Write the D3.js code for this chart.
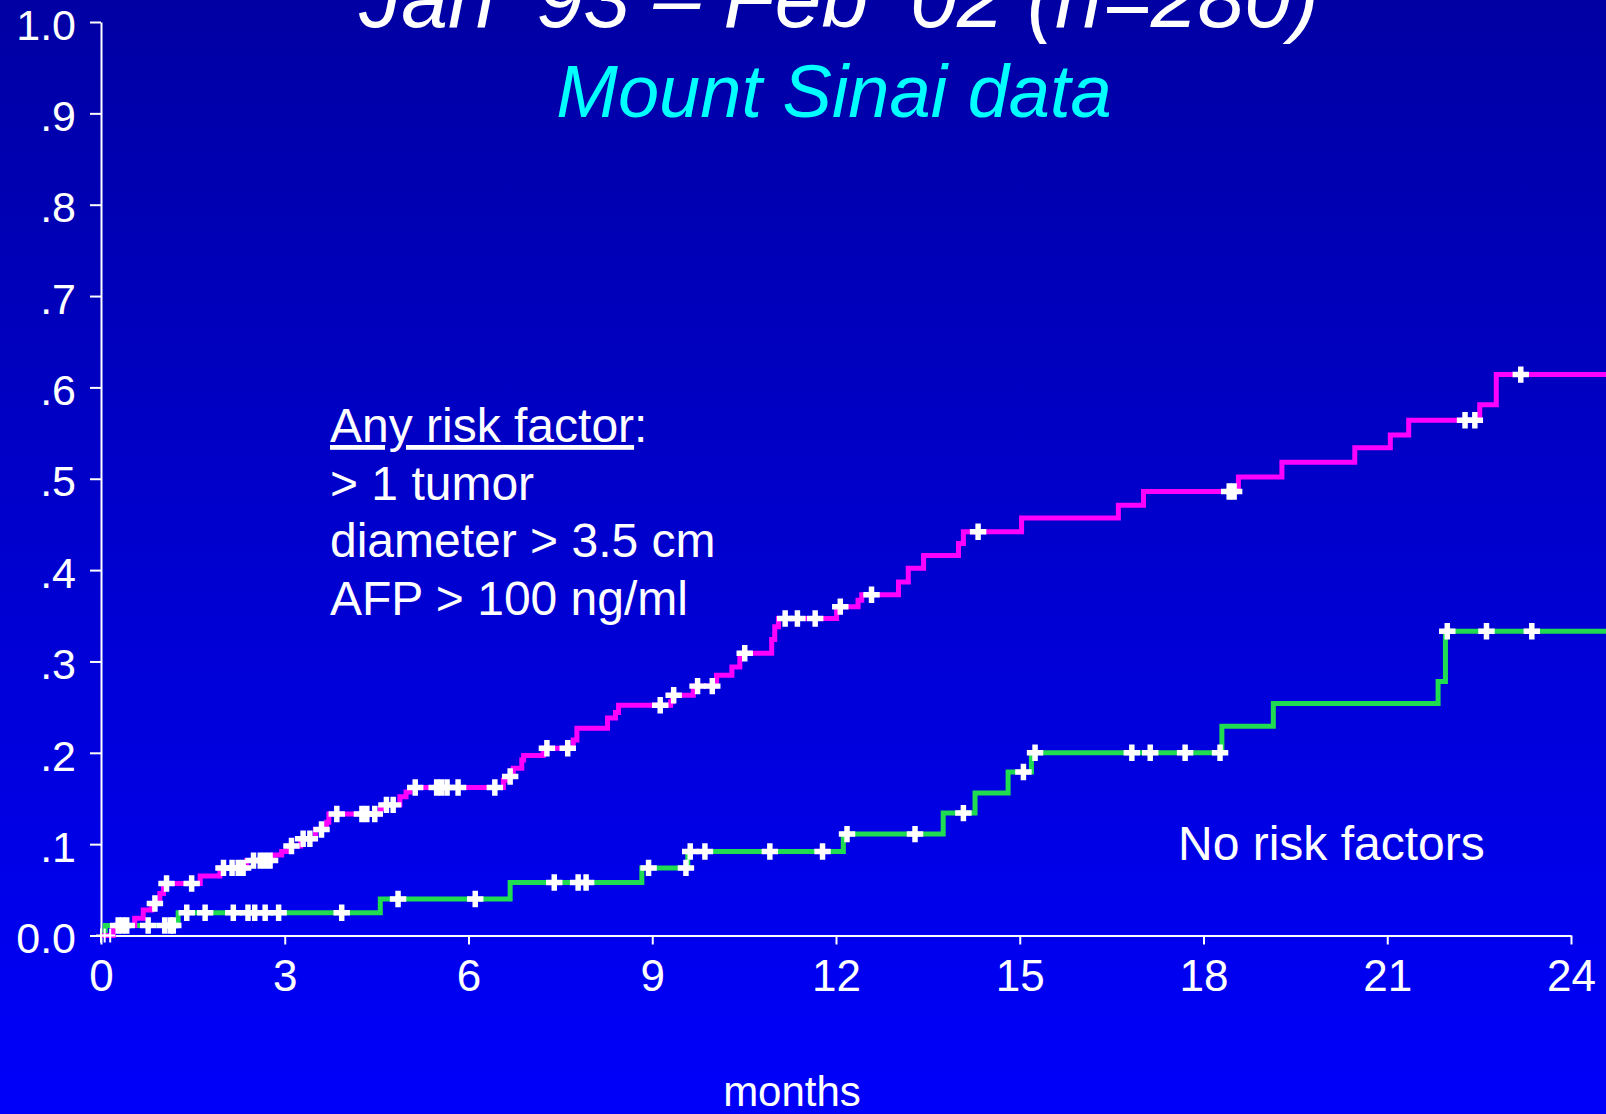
<!DOCTYPE html>
<html lang="en">
<head>
  <meta charset="UTF-8">
  <title>Recurrence by risk factors</title>
  <script src="https://cdn.jsdelivr.net/npm/d3@7/dist/d3.min.js"></script>
  <style>
    body, html { margin: 0; padding: 0; background: #0000c0; }
    svg { display: block; font-family: "Liberation Sans", Arial, sans-serif; }
  </style>
</head>
<body>
  <svg width="1606" height="1114"></svg>
  <script>
    // tick values
    let xTicks = [0, 3, 6, 9, 12, 15, 18, 21, 24];
    let yTicks = [0, 0.1, 0.2, 0.3, 0.4, 0.5, 0.6, 0.7, 0.8, 0.9, 1.0];

    // "Any risk factor" group: event times (months) and cumulative value after each event
    let anyRiskTimes = [0.20, 0.55, 0.69, 0.83, 0.96, 1.02, 1.62, 1.94, 2.38, 2.81, 2.95, 3.07, 3.26, 3.50, 3.68, 3.72,
      4.56, 4.62, 4.88, 4.98, 5.04, 6.57, 6.66, 6.73, 6.87, 6.90, 7.22, 7.71, 7.77, 8.27, 8.40, 8.45, 9.30, 9.33,
      9.67, 10.05, 10.30, 10.43, 10.47, 10.95, 11.00, 11.06, 12.01, 12.36, 12.42, 13.02, 13.18, 13.43, 14.00, 14.08,
      15.03, 16.61, 17.02, 18.57, 19.28, 20.47, 21.05, 21.35, 22.51, 22.78];
    let anyRiskValues = [0.011, 0.019, 0.028, 0.035, 0.046, 0.057, 0.065, 0.074, 0.082, 0.088, 0.092, 0.098, 0.106, 0.116, 0.124, 0.133,
      0.139, 0.143, 0.152, 0.157, 0.162, 0.170, 0.174, 0.183, 0.192, 0.197, 0.205, 0.214, 0.227, 0.238, 0.244, 0.252, 0.256, 0.263,
      0.273, 0.285, 0.294, 0.305, 0.309, 0.324, 0.338, 0.347, 0.360, 0.367, 0.373, 0.387, 0.402, 0.416, 0.429, 0.442,
      0.457, 0.471, 0.486, 0.502, 0.518, 0.534, 0.548, 0.564, 0.581, 0.614];
    let anyRiskCensored = [0.00, 0.06, 0.15, 0.28, 0.35, 0.42, 0.88, 1.07, 1.48, 2.00, 2.14, 2.24, 2.32, 2.49, 2.60, 2.68, 2.76,
      3.11, 3.30, 3.41, 3.60, 3.85, 4.26, 4.34, 4.47, 4.66, 4.77, 5.13, 5.48, 5.56, 5.65, 5.83, 6.43, 6.68, 7.28, 7.62,
      9.13, 9.35, 9.74, 9.98, 10.51, 11.17, 11.37, 11.66, 12.07, 12.58, 14.32, 18.42, 18.50, 22.27, 22.43, 23.18];

    // "No risk factors" group
    let noRiskTimes = [0.07, 1.26, 4.56, 6.68, 8.83, 9.58, 12.12, 13.75, 14.27, 14.81, 15.19, 18.30, 19.14, 21.83, 21.95];
    let noRiskValues = [0.011, 0.025, 0.040, 0.058, 0.074, 0.092, 0.111, 0.134, 0.156, 0.179, 0.200, 0.229, 0.254, 0.278, 0.333];
    let noRiskCensored = [0.77, 1.04, 1.13, 1.18, 1.40, 1.70, 2.16, 2.40, 2.51, 2.68, 2.90, 3.93, 4.85, 6.11, 7.40, 7.79, 7.92,
      8.94, 9.55, 9.62, 9.86, 10.92, 11.78, 12.18, 13.29, 14.08, 15.06, 15.25, 16.83, 17.13, 17.70, 18.27, 21.98, 22.62, 23.36];

    let followUpEnd = 24.6;

    let svg = d3.select("svg"),
      width = +svg.attr("width"),
      height = +svg.attr("height");

    // background gradient
    let grad = svg.append("defs").append("linearGradient")
      .attr("id", "bg").attr("x1", 0).attr("y1", 0).attr("x2", 0).attr("y2", 1);
    grad.append("stop").attr("offset", "0%").attr("stop-color", "#0000a3");
    grad.append("stop").attr("offset", "100%").attr("stop-color", "#0000fb");
    svg.append("rect").attr("width", width).attr("height", height).attr("fill", "url(#bg)");

    let xScale = d3.scaleLinear().domain([0, 24]).range([101, 1571]);
    let yScale = d3.scaleLinear().domain([0, 1]).range([935.5, 22]);

    let xAxis = d3.axisBottom(xScale)
      .tickValues(xTicks)
      .tickSizeInner(9).tickSizeOuter(0).tickPadding(15);
    let yAxis = d3.axisLeft(yScale)
      .tickValues(yTicks)
      .tickSizeInner(11).tickSizeOuter(0).tickPadding(14)
      .tickFormat(d => d === 0 ? "0.0" : d === 1 ? "1.0" : "." + Math.round(d * 10));

    let xGroup = svg.append("g")
      .attr("transform", `translate(0,${yScale(0)})`)
      .call(xAxis);
    let yGroup = svg.append("g")
      .attr("transform", `translate(${xScale(0)},0)`)
      .call(yAxis);

    [xGroup, yGroup].forEach(g => {
      g.selectAll("path, line").attr("stroke", "#ffffff").attr("stroke-width", 2);
      g.selectAll("text").attr("fill", "#ffffff").attr("font-family", "Liberation Sans, Arial, sans-serif");
    });
    xGroup.selectAll("text").attr("font-size", 44);
    yGroup.selectAll("text").attr("font-size", 43).attr("dy", "0.4em");

    // step curves
    function stepPoints(times, values) {
      let pts = [[0, 0]];
      times.forEach((t, i) => pts.push([t, values[i]]));
      pts.push([followUpEnd, values[values.length - 1]]);
      return pts;
    }
    function valueAt(times, values, t) {
      let i = d3.bisectRight(times, t) - 1;
      return i < 0 ? 0 : values[i];
    }

    let line = d3.line()
      .curve(d3.curveStepAfter)
      .x(d => xScale(d[0]))
      .y(d => yScale(d[1]));

    let groups = [
      { times: noRiskTimes, values: noRiskValues, censored: noRiskCensored, color: "#20dc50" },
      { times: anyRiskTimes, values: anyRiskValues, censored: anyRiskCensored, color: "#ff00ff" }
    ];

    groups.forEach(s => {
      svg.append("path")
        .attr("d", line(stepPoints(s.times, s.values)))
        .attr("fill", "none")
        .attr("stroke", s.color)
        .attr("stroke-width", 5);
    });

    // censor marks
    let cross = d3.symbol().type(d3.symbolCross).size(150);
    groups.forEach(s => {
      let marks = s.censored.map(t => [t, valueAt(s.times, s.values, t)]);
      svg.append("g").selectAll("path")
        .data(marks.filter(d => d[1] > 0))
        .enter().append("path")
        .attr("transform", d => `translate(${xScale(d[0])},${yScale(d[1])})`)
        .attr("d", cross)
        .attr("fill", "#ffffff");
      // the ones sitting on the axis are drawn thin
      svg.append("g").selectAll("path")
        .data(marks.filter(d => d[1] === 0))
        .enter().append("path")
        .attr("d", d => `M${xScale(d[0])},${yScale(0) - 7}V${yScale(0) + 7}M${xScale(d[0]) - 5},${yScale(0)}H${xScale(d[0]) + 5}`)
        .attr("stroke", "#ffffff")
        .attr("stroke-width", 2);
    });

    // titles
    svg.append("text")
      .attr("x", 839).attr("y", 27)
      .attr("text-anchor", "middle")
      .attr("font-size", 84).attr("font-style", "italic")
      .attr("fill", "#ffffff")
      .text("Jan \u201993 \u2013 Feb \u201902 (n=280)");
    svg.append("text")
      .attr("x", 834).attr("y", 117)
      .attr("text-anchor", "middle")
      .attr("font-size", 74).attr("font-style", "italic")
      .attr("fill", "#00ffff")
      .text("Mount Sinai data");

    // annotation for the risk group
    let note = svg.append("text")
      .attr("x", 330).attr("y", 442)
      .attr("font-size", 48).attr("fill", "#ffffff");
    let head = note.append("tspan").attr("x", 330);
    head.append("tspan").attr("text-decoration", "underline").text("Any risk factor");
    head.append("tspan").text(":");
    ["> 1 tumor", "diameter > 3.5 cm", "AFP > 100 ng/ml"].forEach((s, i) => {
      note.append("tspan").attr("x", 330).attr("y", 442 + 57.5 * (i + 1)).text(s);
    });

    svg.append("text")
      .attr("x", 1178).attr("y", 860)
      .attr("font-size", 48).attr("fill", "#ffffff")
      .text("No risk factors");

    svg.append("text")
      .attr("x", 792).attr("y", 1106)
      .attr("text-anchor", "middle")
      .attr("font-size", 42).attr("fill", "#ffffff")
      .text("months");
  </script>
</body>
</html>
